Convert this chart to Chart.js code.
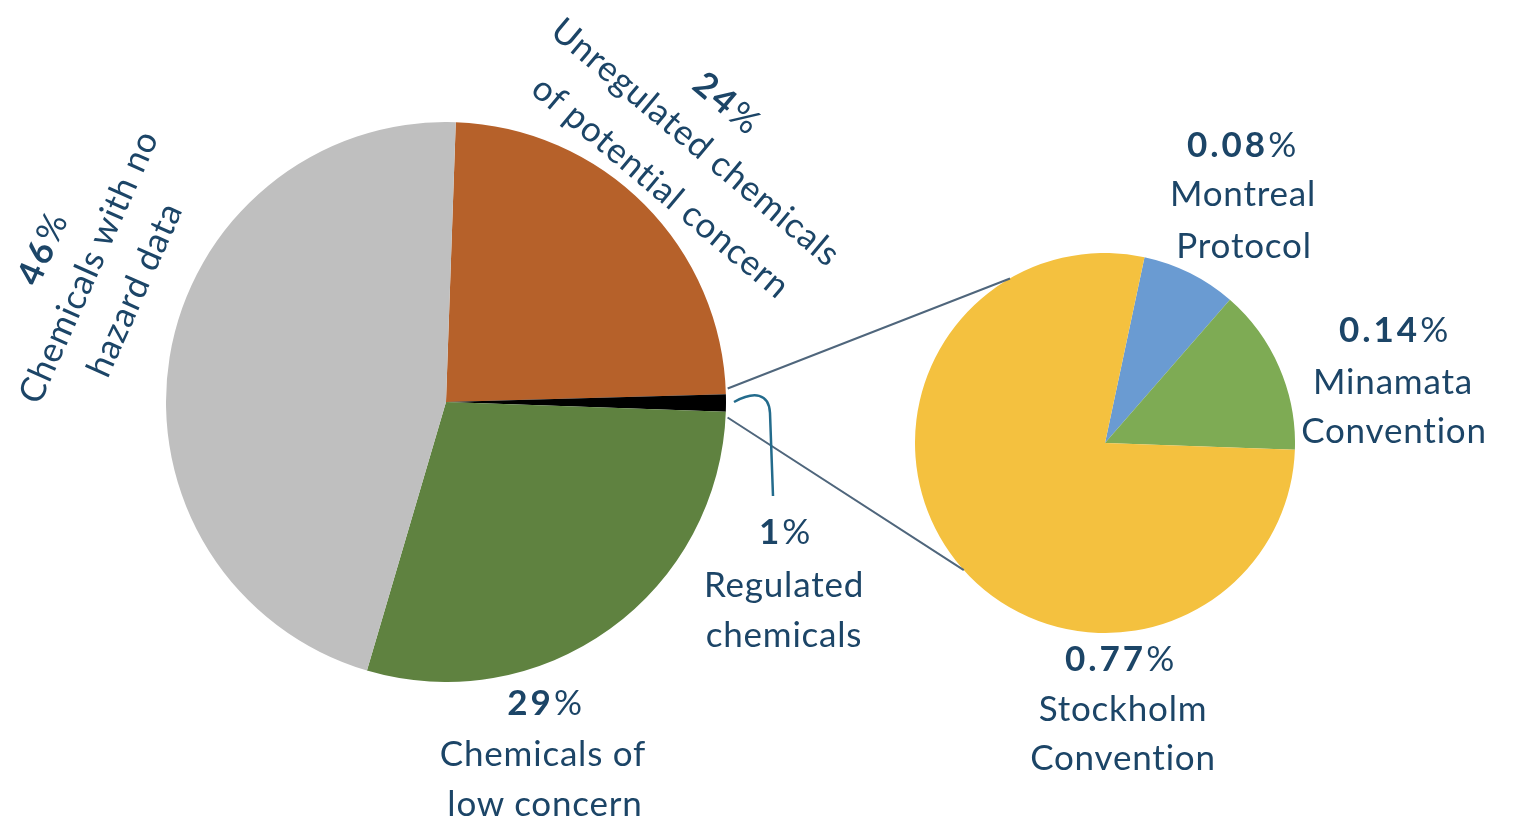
<!DOCTYPE html>
<html>
<head>
<meta charset="utf-8">
<title>Chemicals on the market</title>
<script src="https://cdn.jsdelivr.net/npm/chart.js@4.4.1/dist/chart.umd.min.js"></script>
<style>
    html, body { margin: 0; padding: 0; background: #fff; }
    body { position: relative; width: 1516px; height: 819px; overflow: hidden; font-family: Lato, 'Noto Sans', sans-serif; }
    #mainChart { position: absolute; left: 166px; top: 122px; }
    #zoomChart { position: absolute; left: 915px; top: 253px; }
    #overlay { position: absolute; left: 0; top: 0; pointer-events: none; }
    .lbl {
        position: absolute; white-space: nowrap; color: #1c4567;
        font-size: 35px; line-height: 35px; letter-spacing: 0.8px; transform-origin: 50% 50%;
    }
    .lbl b { font-weight: 700; letter-spacing: 3px; }
</style>
</head>
<body>
<canvas id="mainChart" width="560" height="560"></canvas>
<canvas id="zoomChart" width="380" height="380"></canvas>
<canvas id="overlay" width="1516" height="819"></canvas>

<script>
// main pie: share of all chemicals (%)
const mainCategories = [
    ['Unregulated chemicals', 'of potential concern'],
    ['Regulated', 'chemicals'],
    ['Chemicals of', 'low concern'],
    ['Chemicals with no', 'hazard data']
];
const mainValues = [24, 1, 29, 46];
const mainColors = ['#b6612a', '#000000', '#5f8240', '#bfbfbf'];

// breakdown of the regulated 1% (%)
const zoomCategories = [
    ['Montreal', 'Protocol'],
    ['Minamata', 'Convention'],
    ['Stockholm', 'Convention']
];
const zoomValues = [0.08, 0.14, 0.77];
const zoomColors = ['#6a9bd2', '#7eab54', '#f4c13f'];

// label placement: centre of each line (percent line first) and rotation in degrees
const mainLabelPos = [
    { rot: 40, lines: [[728, 102], [697, 141], [662, 186]] },
    { rot: 0, lines: [[785, 530], [784, 583], [784, 633]] },
    { rot: 0, lines: [[545, 701], [543, 752], [545, 802]] },
    { rot: -66, lines: [[41, 248], [87, 266], [133, 289]] }
];
const zoomLabelPos = [
    { rot: 0, lines: [[1242, 143], [1243, 192], [1244, 244]] },
    { rot: 0, lines: [[1394, 328], [1393, 380], [1394, 429]] },
    { rot: 0, lines: [[1120, 657], [1123, 707], [1123, 756]] }
];

// where the connector lines meet the small pie (degrees clockwise from top)
const connectorAngles = [330, 228];

function pieConfig(labels, values, colors, rotation) {
    return {
        type: 'pie',
        data: {
            labels: labels,
            datasets: [{ data: values, backgroundColor: colors, borderWidth: 0 }]
        },
        options: {
            responsive: false,
            animation: false,
            rotation: rotation,
            layout: { padding: 0 },
            plugins: { legend: { display: false }, tooltip: { enabled: false } }
        }
    };
}

const mainChart = new Chart(document.getElementById('mainChart'), pieConfig(mainCategories, mainValues, mainColors, 2));
const zoomChart = new Chart(document.getElementById('zoomChart'), pieConfig(zoomCategories, zoomValues, zoomColors, 12));

function addLabels(categories, values, layout) {
    categories.forEach((lines, i) => {
        const pos = layout[i];
        const texts = ['<b>' + values[i] + '</b>%'].concat(lines);
        texts.forEach((t, j) => {
            const div = document.createElement('div');
            div.className = 'lbl';
            div.innerHTML = t;
            div.style.left = pos.lines[j][0] + 'px';
            div.style.top = pos.lines[j][1] + 'px';
            div.style.transform = 'translate(-50%, -50%) rotate(' + pos.rot + 'deg)';
            document.body.appendChild(div);
        });
    });
}
addLabels(mainCategories, mainValues, mainLabelPos);
addLabels(zoomCategories, zoomValues, zoomLabelPos);

// connectors between the regulated slice and the breakdown pie
function arcPoint(chart, arc, angle, extra) {
    const r = arc.outerRadius + (extra || 0);
    const box = chart.canvas.getBoundingClientRect();
    return [box.left + arc.x + r * Math.cos(angle), box.top + arc.y + r * Math.sin(angle)];
}

const ctx = document.getElementById('overlay').getContext('2d');
const regulated = mainChart.getDatasetMeta(0).data[1];
const zoomArc = zoomChart.getDatasetMeta(0).data[0];
const toRad = d => (d - 90) * Math.PI / 180;

const a = arcPoint(mainChart, regulated, regulated.startAngle - 0.02, 2);
const b = arcPoint(mainChart, regulated, regulated.endAngle + 0.02, 2);
const c = arcPoint(zoomChart, zoomArc, toRad(connectorAngles[0]));
const d = arcPoint(zoomChart, zoomArc, toRad(connectorAngles[1]));

ctx.strokeStyle = '#4f667c';
ctx.lineWidth = 2;
ctx.beginPath();
ctx.moveTo(a[0], a[1]); ctx.lineTo(c[0], c[1]);
ctx.moveTo(b[0], b[1]); ctx.lineTo(d[0], d[1]);
ctx.stroke();

// hook pointing from the slice down to its label
const mid = arcPoint(mainChart, regulated, (regulated.startAngle + regulated.endAngle) / 2);
ctx.strokeStyle = '#236b8c';
ctx.lineWidth = 2.5;
ctx.beginPath();
ctx.moveTo(mid[0] + 8, mid[1] - 1);
ctx.bezierCurveTo(mid[0] + 28, mid[1] - 12, mid[0] + 43, mid[1] - 10, mid[0] + 44, mid[1] + 10);
ctx.lineTo(mid[0] + 47, mid[1] + 93);
ctx.stroke();
</script>
</body>
</html>
